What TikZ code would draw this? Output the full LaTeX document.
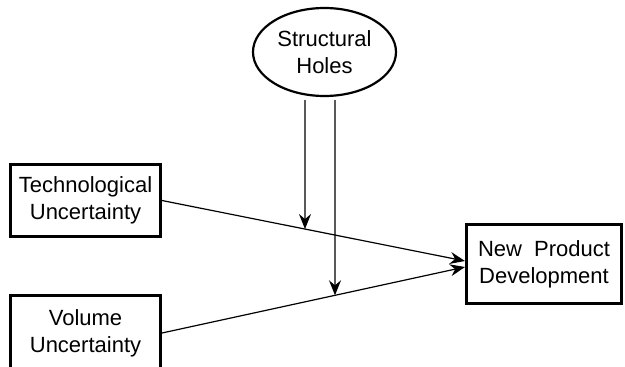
\documentclass[tikz,border=0pt]{standalone}
\usepackage{fontspec}
\setmainfont{Liberation Sans}
\usetikzlibrary{arrows.meta,intersections,calc,shapes.geometric}
\begin{document}
\begin{tikzpicture}[x=1pt,y=-1pt,
  lbl/.style={align=center,font=\fontsize{22}{27}\selectfont},
  box/.style={lbl,draw,line width=3pt,inner sep=0pt},
  oval/.style={lbl,draw,ellipse,line width=2.2pt,inner sep=0pt},
  conn/.style={line width=1.2pt,-{Stealth[length=15pt,width=12pt,inset=5pt]}}]
\useasboundingbox (0,0) rectangle (625,367);
\node[box,minimum width=150pt,minimum height=72pt] (tu) at (85.5,200.5) {Technological\\Uncertainty};
\node[box,minimum width=150pt,minimum height=76pt] (vu) at (85.5,333) {Volume\\Uncertainty};
\node[box,minimum width=155pt,minimum height=79pt] (npd) at (544,264) {New\hspace{6pt} Product\\Development};
\node[oval,minimum width=143pt,minimum height=88pt] (sh) at (324.5,52) {Structural\\Holes};
\coordinate (s1) at ($(sh.south)+(-19.5,3)$);
\coordinate (s2) at ($(sh.south)+(10.5,3)$);
\draw[conn,name path=l1] (tu.east) -- ([yshift=3pt]npd.west);
\draw[conn,name path=l2] (vu.east) -- ([yshift=-3pt]npd.west);
\path[name path=v1] (s1) -- ++(0,300);
\path[name path=v2] (s2) -- ++(0,300);
\path[name intersections={of=l1 and v1,by=x1}];
\path[name intersections={of=l2 and v2,by=x2}];
\draw[conn] (s1) -- (x1);
\draw[conn] (s2) -- (x2);
\end{tikzpicture}
\end{document}
